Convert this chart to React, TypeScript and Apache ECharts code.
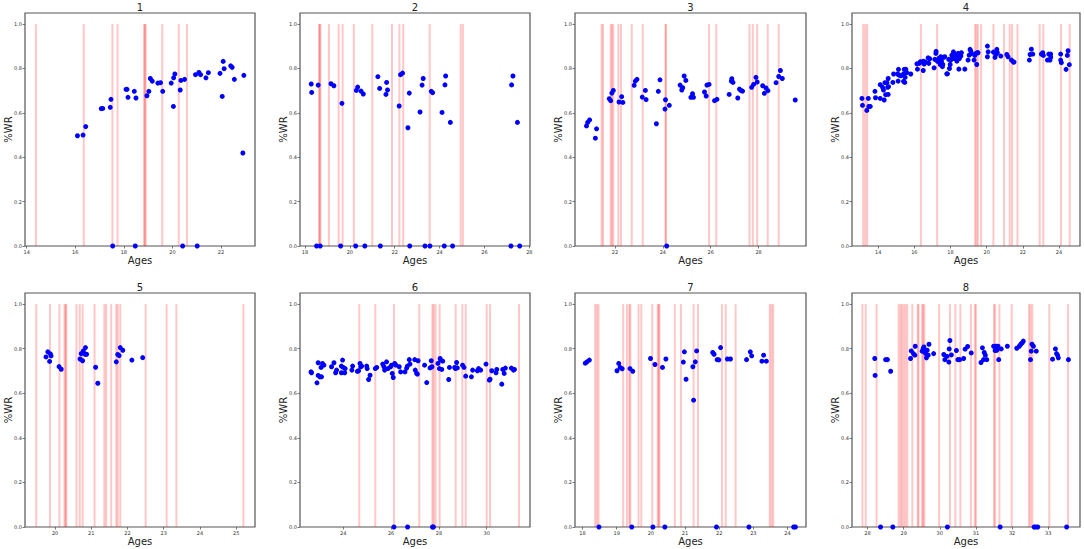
import React, { useEffect, useRef } from "react";
import * as echarts from "echarts";

// ---------- data: [age, %WR] ----------
const pts1 = [
  [16.09, 0.497], [16.32, 0.5], [16.43, 0.538], [17.07, 0.619], [17.13, 0.62], [17.44, 0.625], [17.47, 0.661],
  [18.09, 0.706], [18.13, 0.706], [18.17, 0.67], [18.43, 0.697], [18.5, 0.667], [18.95, 0.677], [19.03, 0.697],
  [19.09, 0.755], [19.17, 0.743], [19.4, 0.734], [19.51, 0.736], [19.6, 0.697], [19.95, 0.734], [20.04, 0.629],
  [20.05, 0.758], [20.1, 0.775], [20.32, 0.703], [20.35, 0.746], [20.5, 0.751], [20.95, 0.772], [21.09, 0.782],
  [21.16, 0.772], [21.38, 0.758], [21.48, 0.781], [21.96, 0.778], [22.05, 0.674], [22.09, 0.832], [22.13, 0.799],
  [22.4, 0.812], [22.46, 0.805], [22.55, 0.751], [22.9, 0.419], [22.94, 0.769],
  [17.54, 0], [18.47, 0], [20.42, 0], [21.02, 0],
];
const vl1 = [14.38, 16.35, 17.53, 17.74, 18.83, 18.87, 18.9, 19.58, 20.26, 20.6];

const pts2 = [
  [18.28, 0.73], [18.3, 0.692], [18.59, 0.725], [19.16, 0.731], [19.29, 0.722], [19.65, 0.643], [20.29, 0.701],
  [20.35, 0.716], [20.5, 0.698], [20.6, 0.685], [21.25, 0.763], [21.33, 0.71], [21.61, 0.683], [21.64, 0.737],
  [21.68, 0.703], [22.2, 0.631], [22.26, 0.772], [22.35, 0.779], [22.59, 0.533], [22.65, 0.689], [23.13, 0.604],
  [23.22, 0.725], [23.27, 0.755], [23.63, 0.697], [23.69, 0.691], [24.11, 0.602], [24.24, 0.726], [24.27, 0.766],
  [24.48, 0.557], [27.21, 0.726], [27.27, 0.766], [27.47, 0.557],
  [18.52, 0], [18.68, 0], [19.59, 0], [20.26, 0], [20.67, 0], [21.36, 0], [22.67, 0], [23.35, 0], [23.57, 0],
  [24.21, 0], [24.58, 0], [27.18, 0], [27.57, 0],
];
const vl2 = [18.63, 18.66, 18.69, 19.07, 19.5, 19.68, 20.18, 21.0, 21.88, 22.21, 22.38, 23.56, 24.94, 25.04];

const pts3 = [
  [20.81, 0.541], [20.86, 0.557], [20.94, 0.568], [21.18, 0.486], [21.23, 0.528], [21.76, 0.664], [21.82, 0.655],
  [21.87, 0.689], [21.93, 0.701], [22.17, 0.649], [22.28, 0.673], [22.33, 0.647], [22.8, 0.724], [22.85, 0.743],
  [22.92, 0.751], [23.14, 0.671], [23.27, 0.701], [23.3, 0.66], [23.73, 0.551], [23.81, 0.697], [23.88, 0.749],
  [24.09, 0.617], [24.11, 0.659], [24.27, 0.634], [24.72, 0.725], [24.79, 0.703], [24.83, 0.713], [24.89, 0.766],
  [24.96, 0.746], [25.17, 0.67], [25.24, 0.686], [25.28, 0.67], [25.74, 0.694], [25.81, 0.676], [25.84, 0.725],
  [25.93, 0.728], [26.16, 0.655], [26.26, 0.661], [26.77, 0.683], [26.86, 0.743], [26.88, 0.754], [26.93, 0.737],
  [27.13, 0.667], [27.2, 0.707], [27.27, 0.7], [27.33, 0.698], [27.71, 0.715], [27.79, 0.728], [27.89, 0.76],
  [27.94, 0.739], [28.17, 0.722], [28.24, 0.688], [28.31, 0.712], [28.39, 0.7], [28.73, 0.736], [28.84, 0.764],
  [28.91, 0.791], [28.99, 0.755], [29.53, 0.658],
  [24.16, 0],
];
const vl3 = [21.44, 21.5, 21.82, 21.87, 21.93, 22.14, 22.25, 22.7, 23.16, 24.11, 24.13, 25.93, 26.23, 27.62, 27.76,
  27.94, 28.38, 28.84];

const pts4 = [
  [13.1, 0.665], [13.13, 0.634], [13.37, 0.611], [13.45, 0.665], [13.48, 0.629], [13.56, 0.629], [13.82, 0.697],
  [13.85, 0.668], [14.11, 0.665], [14.11, 0.727], [14.24, 0.715], [14.29, 0.703], [14.33, 0.658], [14.37, 0.736],
  [14.41, 0.682], [14.48, 0.736], [14.52, 0.715], [14.55, 0.755], [14.55, 0.683], [14.57, 0.718], [14.81, 0.737],
  [14.85, 0.775], [15.07, 0.775], [15.1, 0.743], [15.12, 0.796], [15.16, 0.77], [15.25, 0.767], [15.4, 0.776],
  [15.4, 0.742], [15.44, 0.796], [15.47, 0.737], [15.49, 0.76], [15.53, 0.796], [15.58, 0.781], [15.8, 0.775],
  [16.14, 0.821], [16.17, 0.797], [16.27, 0.823], [16.32, 0.83], [16.36, 0.829], [16.49, 0.791], [16.5, 0.833],
  [16.54, 0.82], [16.63, 0.829], [16.76, 0.848], [16.8, 0.823], [16.85, 0.844], [17.09, 0.803], [17.13, 0.841],
  [17.19, 0.868], [17.2, 0.877], [17.28, 0.832], [17.35, 0.845], [17.43, 0.818], [17.46, 0.853], [17.5, 0.833],
  [17.55, 0.808], [17.57, 0.818], [17.61, 0.85], [17.68, 0.853], [17.79, 0.776], [17.83, 0.776], [17.9, 0.841],
  [17.94, 0.8], [17.98, 0.818], [18.01, 0.838], [18.07, 0.86], [18.13, 0.85], [18.16, 0.875], [18.2, 0.845],
  [18.27, 0.863], [18.35, 0.833], [18.38, 0.853], [18.42, 0.868], [18.46, 0.797], [18.49, 0.845], [18.57, 0.856],
  [18.6, 0.871], [18.79, 0.797], [18.97, 0.838], [19.03, 0.86], [19.08, 0.886], [19.12, 0.878], [19.16, 0.868],
  [19.3, 0.838], [19.34, 0.859], [19.4, 0.868], [19.45, 0.818], [19.49, 0.871], [19.52, 0.871], [20.04, 0.901],
  [20.04, 0.853], [20.08, 0.875], [20.37, 0.874], [20.46, 0.85], [20.5, 0.863], [20.56, 0.886], [20.59, 0.871],
  [20.78, 0.856], [21.11, 0.863], [21.18, 0.853], [21.37, 0.838], [21.48, 0.829], [21.51, 0.829], [22.36, 0.838],
  [22.4, 0.863], [22.47, 0.887], [22.55, 0.865], [23.02, 0.865], [23.1, 0.871], [23.13, 0.859], [23.36, 0.838],
  [23.43, 0.865], [23.5, 0.838], [23.54, 0.865], [23.54, 0.851], [24.09, 0.865], [24.09, 0.838], [24.13, 0.826],
  [24.39, 0.796], [24.46, 0.859], [24.5, 0.88], [24.57, 0.817],
];
const vl4 = [13.17, 13.28, 13.39, 16.36, 17.26, 19.36, 19.43, 19.51, 19.69, 20.37, 20.96, 21.27, 21.4, 21.7, 22.93,
  23.13, 24.11, 24.59];

const pts5 = [
  [19.75, 0.763], [19.8, 0.786], [19.85, 0.743], [19.87, 0.777], [19.89, 0.768], [20.11, 0.72], [20.17, 0.708],
  [20.69, 0.754], [20.72, 0.778], [20.76, 0.746], [20.78, 0.79], [20.83, 0.775], [20.84, 0.805], [20.87, 0.775],
  [21.12, 0.717], [21.18, 0.645], [21.69, 0.741], [21.73, 0.774], [21.77, 0.769], [21.8, 0.805], [21.87, 0.793],
  [22.12, 0.749], [22.42, 0.76],
];
const vl5 = [19.48, 19.86, 20.12, 20.26, 20.29, 20.31, 20.59, 20.68, 20.76, 21.09, 21.36, 21.41, 21.55, 21.69, 21.73,
  21.8, 22.5, 23.08, 23.35, 25.2];

const pts6 = [
  [22.65, 0.696], [22.67, 0.692], [22.9, 0.647], [22.95, 0.737], [22.95, 0.68], [23.02, 0.674], [23.07, 0.716],
  [23.09, 0.674], [23.13, 0.734], [23.19, 0.726], [23.51, 0.719], [23.61, 0.737], [23.68, 0.692], [23.72, 0.704],
  [23.92, 0.722], [23.92, 0.692], [23.97, 0.749], [24.0, 0.716], [24.06, 0.692], [24.08, 0.711], [24.36, 0.704],
  [24.39, 0.722], [24.59, 0.698], [24.64, 0.701], [24.7, 0.734], [24.73, 0.719], [24.77, 0.722], [24.98, 0.722],
  [25.0, 0.711], [25.06, 0.662], [25.12, 0.681], [25.34, 0.711], [25.4, 0.716], [25.65, 0.731], [25.7, 0.719],
  [25.73, 0.704], [25.81, 0.741], [25.87, 0.711], [25.98, 0.719], [26.02, 0.726], [26.05, 0.689], [26.09, 0.671],
  [26.15, 0.734], [26.2, 0.726], [26.34, 0.719], [26.4, 0.696], [26.58, 0.696], [26.65, 0.713], [26.68, 0.722],
  [26.76, 0.751], [26.79, 0.731], [26.99, 0.751], [27.01, 0.704], [27.07, 0.689], [27.1, 0.686], [27.13, 0.746],
  [27.4, 0.726], [27.49, 0.648], [27.63, 0.714], [27.68, 0.746], [27.71, 0.719], [27.96, 0.734], [28.02, 0.711],
  [28.05, 0.756], [28.07, 0.749], [28.12, 0.707], [28.16, 0.744], [28.41, 0.662], [28.44, 0.716], [28.66, 0.716],
  [28.69, 0.711], [28.74, 0.738], [28.77, 0.714], [28.99, 0.726], [29.05, 0.716], [29.12, 0.677], [29.36, 0.674],
  [29.41, 0.704], [29.61, 0.701], [29.66, 0.711], [29.75, 0.704], [29.97, 0.731], [30.11, 0.659], [30.14, 0.663],
  [30.21, 0.701], [30.39, 0.692], [30.42, 0.707], [30.63, 0.641], [30.67, 0.707], [30.73, 0.689], [30.78, 0.713],
  [31.03, 0.713], [31.12, 0.704], [31.16, 0.707],
  [26.12, 0], [26.69, 0], [27.73, 0], [27.77, 0],
];
const vl6 = [24.67, 25.34, 26.12, 27.18, 27.73, 27.78, 27.86, 28.03, 28.7, 28.98, 29.12, 30.0, 30.14, 31.35];

const pts7 = [
  [18.08, 0.735], [18.13, 0.741], [18.2, 0.749], [19.01, 0.701], [19.06, 0.734], [19.1, 0.716], [19.16, 0.71],
  [19.39, 0.711], [19.47, 0.699], [19.99, 0.756], [20.12, 0.729], [20.34, 0.716], [20.44, 0.754], [20.95, 0.74],
  [20.98, 0.786], [21.03, 0.663], [21.23, 0.719], [21.25, 0.569], [21.3, 0.741], [21.34, 0.79], [21.81, 0.783],
  [21.85, 0.775], [21.94, 0.751], [21.99, 0.75], [22.04, 0.805], [22.24, 0.754], [22.33, 0.754], [22.8, 0.751],
  [22.91, 0.786], [22.95, 0.768], [23.25, 0.744], [23.3, 0.771], [23.38, 0.744],
  [18.48, 0], [19.44, 0], [20.06, 0], [20.41, 0], [21.92, 0], [22.87, 0], [24.18, 0], [24.23, 0],
];
const vl7 = [18.37, 18.42, 18.47, 19.19, 19.3, 19.37, 19.4, 19.64, 19.72, 20.04, 20.2, 20.23, 20.25, 20.7, 20.88,
  21.25, 21.38, 22.08, 22.19, 22.48, 23.48, 23.53, 23.58];

const pts8 = [
  [28.2, 0.756], [28.21, 0.68], [28.5, 0.751], [28.55, 0.751], [28.64, 0.699], [29.19, 0.756], [29.21, 0.79],
  [29.27, 0.778], [29.31, 0.771], [29.32, 0.811], [29.51, 0.789], [29.54, 0.801], [29.56, 0.808], [29.57, 0.786],
  [29.61, 0.778], [29.63, 0.759], [29.65, 0.793], [29.68, 0.771], [29.7, 0.82], [29.83, 0.778], [30.11, 0.774],
  [30.14, 0.751], [30.2, 0.766], [30.25, 0.74], [30.26, 0.799], [30.28, 0.837], [30.32, 0.772], [30.46, 0.792],
  [30.5, 0.751], [30.55, 0.751], [30.66, 0.756], [30.7, 0.798], [30.77, 0.81], [30.87, 0.781], [31.14, 0.738],
  [31.18, 0.804], [31.21, 0.751], [31.23, 0.783], [31.26, 0.771], [31.3, 0.751], [31.49, 0.811], [31.53, 0.792],
  [31.56, 0.811], [31.58, 0.793], [31.61, 0.811], [31.63, 0.751], [31.7, 0.799], [31.87, 0.811], [32.13, 0.802],
  [32.2, 0.811], [32.24, 0.82], [32.28, 0.826], [32.31, 0.834], [32.51, 0.751], [32.53, 0.789], [32.55, 0.82],
  [32.59, 0.811], [32.67, 0.789], [33.12, 0.753], [33.2, 0.799], [33.23, 0.778], [33.26, 0.771], [33.28, 0.759],
  [33.56, 0.751],
  [28.36, 0], [28.7, 0], [30.21, 0], [31.67, 0], [32.61, 0], [32.65, 0], [32.71, 0], [33.51, 0],
];
const vl8 = [27.86, 27.95, 28.25, 28.86, 28.91, 28.95, 29.0, 29.05, 29.1, 29.24, 29.39, 29.41, 29.51, 29.54, 29.57,
  29.98, 30.28, 30.43, 30.57, 30.86, 30.97, 31.0, 31.5, 31.53, 31.65, 31.99, 32.47, 32.51, 32.56, 33.03, 33.55];

// axis ranges and tick labels
const titles = ["1", "2", "3", "4", "5", "6", "7", "8"];
const xRanges = [
  [13.93, 23.4], [17.78, 28.03], [20.33, 29.98], [12.55, 25.16],
  [19.17, 25.52], [22.19, 31.81], [17.78, 24.54], [27.57, 33.88],
];
const xTicks = [
  [14, 16, 18, 20, 22], [18, 20, 22, 24, 26, 28], [22, 24, 26, 28], [14, 16, 18, 20, 22, 24],
  [20, 21, 22, 23, 24, 25], [24, 26, 28, 30], [18, 19, 20, 21, 22, 23, 24], [28, 29, 30, 31, 32, 33],
];
const yTicks = [0, 0.2, 0.4, 0.6, 0.8, 1.0];
const allPts = [pts1, pts2, pts3, pts4, pts5, pts6, pts7, pts8];
const allVl = [vl1, vl2, vl3, vl4, vl5, vl6, vl7, vl8];

// layout
const COL_LEFT = [25, 300, 575, 852];
const COL_W = [230, 230, 231, 228];
const ROW_TOP = [13, 293];
const ROW_H = [233, 234];
const TITLE_Y = [2, 282];
const FONT = "DejaVu Sans";

export default function App() {
  const ref = useRef<HTMLDivElement>(null);
  useEffect(() => {
    const chart = echarts.init(ref.current!, null, { renderer: "svg" });
    const grid: any[] = [];
    const xAxis: any[] = [];
    const yAxis: any[] = [];
    const series: any[] = [];
    const graphic: any[] = [];
    for (let i = 0; i < 8; i++) {
      const col = i % 4;
      const row = Math.floor(i / 4);
      const left = COL_LEFT[col];
      const width = COL_W[col];
      const top = ROW_TOP[row];
      const height = ROW_H[row];
      grid.push({
        left, top, width, height, show: true, borderColor: "#555", borderWidth: 1.2,
        backgroundColor: "#fff",
      });
      xAxis.push({
        type: "value", gridIndex: i, min: xRanges[i][0], max: xRanges[i][1],
        name: "Ages", nameLocation: "middle", nameGap: 9, nameMoveOverlap: false,
        nameTextStyle: { fontSize: 10, color: "#222", fontFamily: FONT },
        axisLine: { show: false }, splitLine: { show: false },
        axisTick: { show: true, length: 2.5, customValues: xTicks[i], lineStyle: { color: "#555", width: 0.8 } },
        axisLabel: {
          customValues: xTicks[i], fontSize: 5, color: "#333", margin: 3, fontFamily: FONT,
          formatter: (v: number) => String(Math.round(v)),
        },
      });
      yAxis.push({
        type: "value", gridIndex: i, min: 0, max: 1.05,
        name: "%WR", nameLocation: "middle", nameGap: 12, nameRotate: 90, nameMoveOverlap: false,
        nameTextStyle: { fontSize: 10, color: "#222", fontFamily: FONT },
        axisLine: { show: false }, splitLine: { show: false },
        axisTick: { show: true, length: 2.5, customValues: yTicks, lineStyle: { color: "#555", width: 0.8 } },
        axisLabel: {
          customValues: yTicks, fontSize: 5, color: "#333", margin: 3, fontFamily: FONT,
          formatter: (v: number) => v.toFixed(1),
        },
      });
      series.push({
        type: "custom", xAxisIndex: i, yAxisIndex: i, silent: true, z: 1,
        data: allVl[i].map((v) => [v, 1]),
        encode: { x: 0, y: 1 },
        renderItem: (_p: any, api: any) => {
          const x = api.value(0);
          const p0 = api.coord([x, 0]);
          const p1 = api.coord([x, 1]);
          return {
            type: "rect",
            shape: { x: p0[0] - 1, y: p1[1], width: 2, height: p0[1] - p1[1] },
            style: { fill: "rgba(255,0,0,0.22)" },
          };
        },
      });
      series.push({
        type: "scatter", xAxisIndex: i, yAxisIndex: i, z: 3,
        data: allPts[i], symbolSize: 5, itemStyle: { color: "#0000ff", opacity: 1 },
      });
      graphic.push({
        type: "text", x: left + width / 2, y: TITLE_Y[row],
        style: { text: titles[i], align: "center", verticalAlign: "top", fontSize: 10, fill: "#222", fontFamily: FONT },
      });
    }
    chart.setOption({
      animation: false,
      backgroundColor: "#fff",
      grid, xAxis, yAxis, series, graphic,
    });
    return () => chart.dispose();
  }, []);
  return (
    <div
      ref={ref}
      style={{ position: "absolute", left: 0, top: 0, width: 1084, height: 549, background: "#fff" }}
    />
  );
}
